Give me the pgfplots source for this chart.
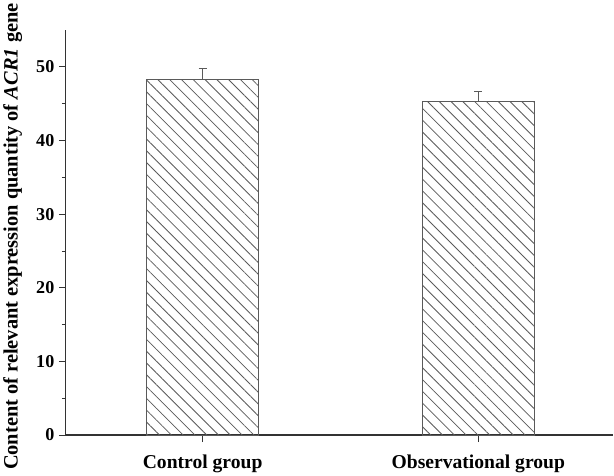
\documentclass[border=0pt]{standalone}
\usepackage{fontspec}
\setmainfont{Liberation Serif}
\usepackage{pgfplots}
\pgfplotsset{compat=1.18}
\usetikzlibrary{patterns.meta}
\definecolor{edge}{HTML}{5A5A5A}
\begin{document}
\begin{tikzpicture}
\begin{axis}[
  scale only axis,
  width=545pt, height=403pt,
  xmin=-0.496, xmax=1.49,
  ymin=0, ymax=55,
  axis lines=left,
  axis line style={line width=1.2pt, color=black!80, -},
  xtick={0,1},
  xticklabels={Control group, Observational group},
  ytick={0,10,20,30,40,50},
  minor ytick={5,15,25,35,45},
  tick align=outside,
  major tick length=7pt,
  minor tick length=4pt,
  tick style={line width=1pt, color=black!80},
  every tick label/.style={font=\fontsize{18}{20}\selectfont\bfseries},
  xticklabel style={font=\fontsize{19.5}{21}\selectfont\bfseries, yshift=-9pt},
  yticklabel style={xshift=-1pt},
  ylabel={Content of relevant expression quantity of \textit{ACR1} gene},
  ylabel style={font=\fontsize{20.3}{22}\selectfont\bfseries, at={(axis description cs:-0.097,0.49)}, anchor=center},
  /pgf/number format/assume math mode=true,
  clip=false,
]
\addplot[ybar, bar width=0.405, draw=edge, line width=0.9pt,
  pattern={Lines[angle=-45, distance=8.3pt, line width=0.8pt]}, pattern color=edge,
  error bars/.cd, y dir=plus, y explicit,
  error bar style={line width=1pt, color=edge},
  error mark options={rotate=90, mark size=4pt, line width=1pt, color=edge}]
coordinates {(0,48.3) +- (0,1.45) (1,45.3) +- (0,1.4)};
\end{axis}
\end{tikzpicture}
\end{document}
